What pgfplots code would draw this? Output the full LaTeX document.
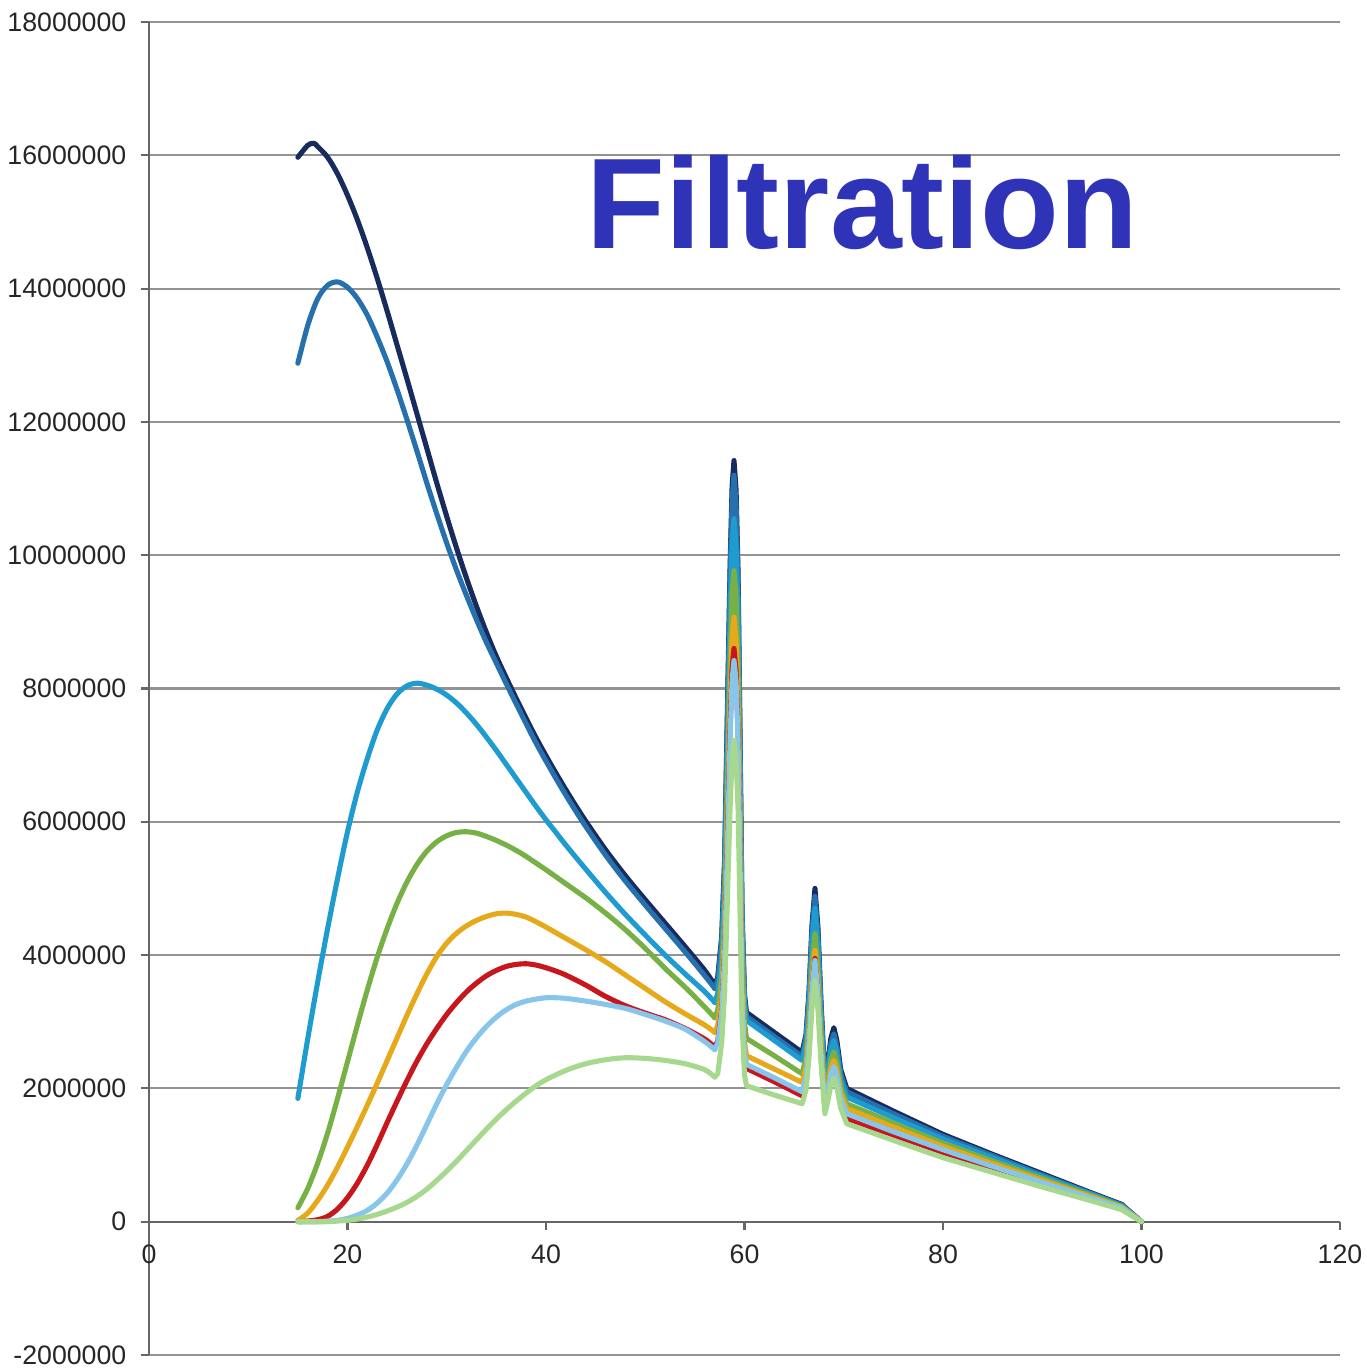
\documentclass[border=0pt]{standalone}
\usepackage{fontspec}
\setmainfont{Liberation Sans}
\usepackage{pgfplots}
\pgfplotsset{compat=1.18}

\definecolor{cNavy}{HTML}{172B5C}
\definecolor{cBlue}{HTML}{2670AE}
\definecolor{cCyan}{HTML}{1E9BCF}
\definecolor{cGreen}{HTML}{77B145}
\definecolor{cGold}{HTML}{E5A91B}
\definecolor{cRed}{HTML}{C8161D}
\definecolor{cLBlue}{HTML}{88C5EA}
\definecolor{cLGreen}{HTML}{A6D98E}
\definecolor{titleblue}{HTML}{2F33B8}

\begin{document}
\begin{tikzpicture}
\begin{axis}[
  scale only axis, width=11.91cm, height=13.33cm,
  xmin=0, xmax=120, ymin=-2000000, ymax=18000000,
  axis x line*=middle, axis y line*=left,
  axis line style={draw=gray!80!black, line width=0.6pt},
  xtick={0,20,40,60,80,100,120},
  ytick={-2000000,0,2000000,4000000,6000000,8000000,10000000,12000000,14000000,16000000,18000000},
  yticklabels={-2000000,0,2000000,4000000,6000000,8000000,10000000,12000000,14000000,16000000,18000000},
  scaled y ticks=false,
  ymajorgrids, grid style={gray!85, line width=0.6pt},
  tick align=outside, major tick length=0.08cm,
  tick style={gray!80!black, line width=0.6pt},
  hide obscured x ticks=false, hide obscured y ticks=false,
  ticklabel style={font=\fontsize{7.6}{9}\selectfont, text=black!85, inner sep=0pt},
  yticklabel style={xshift=-0.14cm},
  xticklabel style={yshift=-0.14cm},
  /pgf/number format/assume math mode=true,
  every axis plot/.append style={line width=1.45pt, line join=round, line cap=round},
]
\coordinate (o) at (rel axis cs:0,0);
% navy
\addplot[cNavy, smooth] coordinates {
(15,15.97e6)(16,16.15e6)(16.6,16.18e6)(17,16.13e6)(18,15.97e6)(19,15.72e6)(20,15.4e6)(21,15.03e6)(22,14.61e6)(23,14.15e6)(24,13.66e6)(25,13.15e6)(26,12.64e6)(27,12.12e6)(28,11.6e6)(29,11.08e6)(30,10.58e6)(31,10.1e6)(32,9.65e6)(33,9.23e6)(34,8.84e6)(35,8.48e6)(36,8.16e6)(37,7.85e6)(38,7.55e6)(39,7.26e6)(40,6.99e6)(41,6.73e6)(42,6.48e6)(43,6.24e6)(44,6.01e6)(46,5.58e6)(48,5.19e6)(50,4.83e6)(52,4.48e6)(54,4.13e6)(56,3.77e6)(57,3.55e6)
};
\addplot[cNavy] coordinates {
(57,3.55e6)(57.3,3.67e6)(57.7,4.27e6)(58,5.45e6)(58.3,7.85e6)(58.55,9.85e6)(58.75,11.03e6)(58.94,11.42e6)(59.15,10.98e6)(59.35,9.75e6)(59.55,7.28e6)(59.75,4.66e6)(60,3.41e6)(60.2,3.14e6)(63,2.84e6)(65.8,2.54e6)
(66.2,2.81e6)(66.5,3.45e6)(66.8,4.45e6)(67.1,5.0e6)(67.4,4.41e6)(67.7,3.32e6)(68.1,2.12e6)(68.4,2.39e6)(68.7,2.75e6)(69,2.91e6)(69.3,2.72e6)(69.7,2.28e6)(70.3,2.0e6)
(75,1.66e6)(80,1.31e6)(85,1.01e6)(90,0.72e6)(95,0.43e6)(98,0.26e6)(100,0)
};
% blue
\addplot[cBlue, smooth] coordinates {
(15,12.88e6)(16,13.45e6)(17,13.85e6)(18,14.05e6)(19,14.1e6)(20,14.02e6)(21,13.85e6)(22,13.6e6)(23,13.27e6)(24,12.9e6)(25,12.48e6)(26,12.03e6)(27,11.56e6)(28,11.08e6)(29,10.62e6)(30,10.18e6)(31,9.77e6)(32,9.39e6)(33,9.03e6)(34,8.69e6)(35,8.38e6)(36,8.07e6)(37,7.77e6)(38,7.47e6)(39,7.18e6)(40,6.91e6)(41,6.65e6)(42,6.4e6)(43,6.16e6)(44,5.93e6)(46,5.5e6)(48,5.11e6)(50,4.75e6)(52,4.4e6)(54,4.05e6)(56,3.69e6)(57,3.5e6)
};
\addplot[cBlue] coordinates {
(57,3.5e6)(57.3,3.62e6)(57.7,4.21e6)(58,5.37e6)(58.3,7.71e6)(58.55,9.67e6)(58.75,10.83e6)(58.94,11.2e6)(59.15,10.77e6)(59.35,9.56e6)(59.55,7.15e6)(59.75,4.57e6)(60,3.34e6)(60.2,3.08e6)(63,2.78e6)(65.8,2.48e6)
(66.2,2.76e6)(66.5,3.38e6)(66.8,4.35e6)(67.1,4.88e6)(67.4,4.3e6)(67.7,3.24e6)(68.1,2.07e6)(68.4,2.33e6)(68.7,2.67e6)(69,2.82e6)(69.3,2.63e6)(69.7,2.22e6)(70.3,1.95e6)
(75,1.62e6)(80,1.28e6)(85,0.99e6)(90,0.7e6)(95,0.42e6)(98,0.25e6)(100,0)
};
% cyan
\addplot[cCyan, smooth] coordinates {
(15,1.85e6)(16,2.75e6)(17,3.6e6)(18,4.4e6)(19,5.15e6)(20,5.85e6)(21,6.45e6)(22,6.95e6)(23,7.38e6)(24,7.7e6)(25,7.92e6)(26,8.04e6)(27,8.08e6)(28,8.05e6)(29,7.99e6)(30,7.9e6)(31,7.78e6)(32,7.63e6)(33,7.46e6)(34,7.27e6)(35,7.07e6)(36,6.86e6)(37,6.65e6)(38,6.44e6)(39,6.23e6)(40,6.03e6)(41,5.84e6)(42,5.65e6)(44,5.29e6)(46,4.94e6)(48,4.61e6)(50,4.3e6)(52,4.0e6)(54,3.72e6)(56,3.45e6)(57,3.29e6)
};
\addplot[cCyan] coordinates {
(57,3.29e6)(57.3,3.42e6)(57.7,3.97e6)(58,5.07e6)(58.3,7.26e6)(58.55,9.1e6)(58.75,10.19e6)(58.94,10.55e6)(59.15,10.16e6)(59.35,9.04e6)(59.55,6.79e6)(59.75,4.4e6)(60,3.26e6)(60.2,3.02e6)(63,2.72e6)(65.8,2.42e6)
(66.2,2.68e6)(66.5,3.28e6)(66.8,4.2e6)(67.1,4.7e6)(67.4,4.14e6)(67.7,3.14e6)(68.1,2.0e6)(68.4,2.25e6)(68.7,2.58e6)(69,2.72e6)(69.3,2.55e6)(69.7,2.13e6)(70.3,1.87e6)
(75,1.56e6)(80,1.24e6)(85,0.96e6)(90,0.68e6)(95,0.41e6)(98,0.24e6)(100,0)
};
% green
\addplot[cGreen, smooth] coordinates {
(15,0.21e6)(16,0.5e6)(17,0.88e6)(18,1.33e6)(19,1.85e6)(20,2.4e6)(21,2.95e6)(22,3.48e6)(23,3.97e6)(24,4.4e6)(25,4.78e6)(26,5.1e6)(27,5.36e6)(28,5.56e6)(29,5.7e6)(30,5.79e6)(31,5.84e6)(32,5.85e6)(33,5.83e6)(34,5.78e6)(35,5.72e6)(36,5.65e6)(37,5.57e6)(38,5.48e6)(39,5.38e6)(40,5.28e6)(42,5.07e6)(44,4.86e6)(46,4.63e6)(48,4.38e6)(50,4.1e6)(52,3.8e6)(54,3.52e6)(56,3.22e6)(57,3.06e6)
};
\addplot[cGreen] coordinates {
(57,3.06e6)(57.3,3.17e6)(57.7,3.68e6)(58,4.69e6)(58.3,6.73e6)(58.55,8.43e6)(58.75,9.45e6)(58.94,9.77e6)(59.15,9.41e6)(59.35,8.35e6)(59.55,6.26e6)(59.75,4.03e6)(60,2.98e6)(60.2,2.75e6)(63,2.49e6)(65.8,2.22e6)
(66.2,2.46e6)(66.5,3.01e6)(66.8,3.86e6)(67.1,4.32e6)(67.4,3.8e6)(67.7,2.88e6)(68.1,1.88e6)(68.4,2.11e6)(68.7,2.43e6)(69,2.55e6)(69.3,2.4e6)(69.7,2.02e6)(70.3,1.77e6)
(75,1.48e6)(80,1.18e6)(85,0.91e6)(90,0.65e6)(95,0.39e6)(98,0.23e6)(100,0)
};
% gold
\addplot[cGold, smooth] coordinates {
(15,0.02e6)(16,0.13e6)(17,0.32e6)(18,0.55e6)(19,0.82e6)(20,1.12e6)(21,1.43e6)(22,1.75e6)(23,2.08e6)(24,2.42e6)(25,2.76e6)(26,3.1e6)(27,3.42e6)(28,3.72e6)(29,3.98e6)(30,4.18e6)(31,4.33e6)(32,4.44e6)(33,4.52e6)(34,4.58e6)(35,4.62e6)(36,4.63e6)(37,4.61e6)(38,4.57e6)(39,4.5e6)(40,4.42e6)(42,4.25e6)(44,4.08e6)(46,3.9e6)(48,3.7e6)(50,3.5e6)(52,3.3e6)(54,3.12e6)(56,2.95e6)(57,2.84e6)
};
\addplot[cGold] coordinates {
(57,2.84e6)(57.3,2.94e6)(57.7,3.4e6)(58,4.34e6)(58.3,6.24e6)(58.55,7.82e6)(58.75,8.77e6)(58.94,9.07e6)(59.15,8.73e6)(59.35,7.74e6)(59.55,5.78e6)(59.75,3.7e6)(60,2.7e6)(60.2,2.49e6)(63,2.29e6)(65.8,2.09e6)
(66.2,2.32e6)(66.5,2.83e6)(66.8,3.64e6)(67.1,4.07e6)(67.4,3.58e6)(67.7,2.7e6)(68.1,1.8e6)(68.4,2.01e6)(68.7,2.3e6)(69,2.42e6)(69.3,2.27e6)(69.7,1.92e6)(70.3,1.7e6)
(75,1.42e6)(80,1.13e6)(85,0.87e6)(90,0.62e6)(95,0.37e6)(98,0.22e6)(100,0)
};
% red
\addplot[cRed, smooth] coordinates {
(15,0)(16,0.01e6)(17,0.03e6)(18,0.08e6)(19,0.19e6)(20,0.36e6)(21,0.58e6)(22,0.85e6)(23,1.16e6)(24,1.49e6)(25,1.81e6)(26,2.12e6)(27,2.41e6)(28,2.67e6)(29,2.9e6)(30,3.11e6)(31,3.29e6)(32,3.45e6)(33,3.58e6)(34,3.69e6)(35,3.77e6)(36,3.83e6)(37,3.86e6)(38,3.87e6)(39,3.85e6)(40,3.81e6)(41,3.76e6)(42,3.7e6)(44,3.55e6)(46,3.38e6)(48,3.24e6)(50,3.13e6)(52,3.03e6)(54,2.9e6)(56,2.74e6)(57,2.62e6)
};
\addplot[cRed] coordinates {
(57,2.62e6)(57.3,2.71e6)(57.7,3.17e6)(58,4.06e6)(58.3,5.88e6)(58.55,7.41e6)(58.75,8.31e6)(58.94,8.6e6)(59.15,8.27e6)(59.35,7.33e6)(59.55,5.46e6)(59.75,3.46e6)(60,2.51e6)(60.2,2.3e6)(63,2.1e6)(65.8,1.89e6)
(66.2,2.13e6)(66.5,2.66e6)(66.8,3.5e6)(67.1,3.95e6)(67.4,3.45e6)(67.7,2.55e6)(68.1,1.68e6)(68.4,1.89e6)(68.7,2.18e6)(69,2.3e6)(69.3,2.14e6)(69.7,1.78e6)(70.3,1.55e6)
(75,1.3e6)(80,1.04e6)(85,0.8e6)(90,0.57e6)(95,0.34e6)(98,0.2e6)(100,0)
};
% light blue
\addplot[cLBlue, smooth] coordinates {
(15,0)(17,0)(18,0.01e6)(19,0.02e6)(20,0.05e6)(21,0.1e6)(22,0.17e6)(23,0.28e6)(24,0.43e6)(25,0.63e6)(26,0.87e6)(27,1.15e6)(28,1.46e6)(29,1.77e6)(30,2.06e6)(31,2.32e6)(32,2.56e6)(33,2.76e6)(34,2.93e6)(35,3.07e6)(36,3.18e6)(37,3.26e6)(38,3.31e6)(39,3.34e6)(40,3.36e6)(41,3.36e6)(42,3.35e6)(44,3.31e6)(46,3.26e6)(48,3.2e6)(50,3.11e6)(52,3.01e6)(54,2.89e6)(56,2.7e6)(57,2.58e6)
};
\addplot[cLBlue] coordinates {
(57,2.58e6)(57.3,2.68e6)(57.7,3.13e6)(58,4.0e6)(58.3,5.77e6)(58.55,7.25e6)(58.75,8.13e6)(58.94,8.42e6)(59.15,8.11e6)(59.35,7.2e6)(59.55,5.4e6)(59.75,3.46e6)(60,2.55e6)(60.2,2.36e6)(63,2.16e6)(65.8,1.95e6)
(66.2,2.18e6)(66.5,2.69e6)(66.8,3.49e6)(67.1,3.92e6)(67.4,3.44e6)(67.7,2.57e6)(68.1,1.72e6)(68.4,1.93e6)(68.7,2.21e6)(69,2.33e6)(69.3,2.18e6)(69.7,1.84e6)(70.3,1.62e6)
(75,1.35e6)(80,1.08e6)(85,0.83e6)(90,0.59e6)(95,0.35e6)(98,0.21e6)(100,0)
};
% light green
\addplot[cLGreen, smooth] coordinates {
(15,0)(18,0)(19,0.01e6)(20,0.02e6)(21,0.04e6)(22,0.07e6)(23,0.11e6)(24,0.16e6)(25,0.22e6)(26,0.29e6)(27,0.38e6)(28,0.49e6)(29,0.62e6)(30,0.76e6)(31,0.91e6)(32,1.07e6)(33,1.23e6)(34,1.39e6)(35,1.54e6)(36,1.68e6)(37,1.81e6)(38,1.93e6)(39,2.04e6)(40,2.13e6)(42,2.27e6)(44,2.37e6)(46,2.43e6)(48,2.46e6)(50,2.45e6)(52,2.42e6)(54,2.37e6)(56,2.28e6)(57,2.17e6)
};
\addplot[cLGreen] coordinates {
(57,2.17e6)(57.3,2.22e6)(57.7,2.68e6)(58,3.43e6)(58.3,4.96e6)(58.55,6.22e6)(58.75,6.97e6)(58.94,7.22e6)(59.15,6.95e6)(59.35,6.18e6)(59.55,4.63e6)(59.75,2.98e6)(60,2.2e6)(60.2,2.04e6)(63,1.9e6)(65.8,1.77e6)
(66.2,1.98e6)(66.5,2.46e6)(66.8,3.21e6)(67.1,3.62e6)(67.4,3.18e6)(67.7,2.39e6)(68.1,1.62e6)(68.4,1.81e6)(68.7,2.05e6)(69,2.16e6)(69.3,2.02e6)(69.7,1.7e6)(70.3,1.47e6)
(75,1.22e6)(80,0.96e6)(85,0.74e6)(90,0.52e6)(95,0.31e6)(98,0.18e6)(100,0)
};
\node[anchor=base west, inner sep=0pt, text=titleblue,
      font=\fontsize{36.7}{40}\selectfont\bfseries]
  at (axis cs:44.0,14600000) {Filtration};
\end{axis}
\pgfresetboundingbox
\path[shift={(o)}] (-1.49cm,-0.14cm) rectangle (12.17cm,13.55cm);
\end{tikzpicture}
\end{document}
